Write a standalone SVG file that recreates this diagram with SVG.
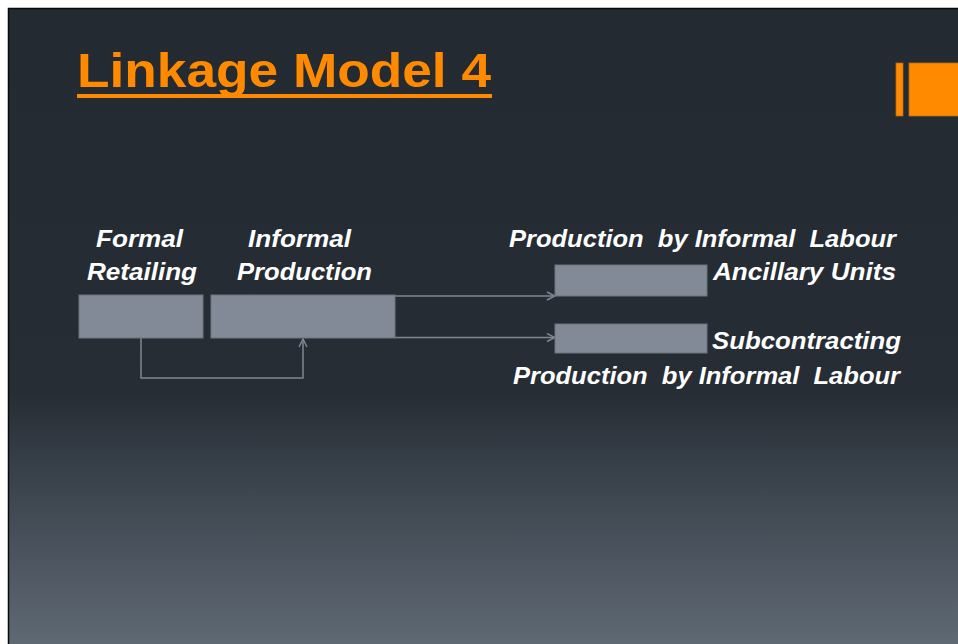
<svg xmlns="http://www.w3.org/2000/svg" width="958" height="644" viewBox="0 0 958 644">
<defs>
<linearGradient id="bg" x1="0" y1="0" x2="0" y2="1">
<stop offset="0" stop-color="#232a31"/>
<stop offset="0.6" stop-color="#262d35"/>
<stop offset="0.85" stop-color="#4b545e"/>
<stop offset="1" stop-color="#606a75"/>
</linearGradient>
<marker id="arr" viewBox="0 0 10 10" refX="9" refY="5" markerWidth="10" markerHeight="10" markerUnits="userSpaceOnUse" orient="auto">
<path d="M1,1 L9,5 L1,9" fill="none" stroke="#7d8692" stroke-width="1.5"/>
</marker>
<style>
.box{fill:#818a96;stroke:#6c7480;stroke-width:1}
.lbl{font-family:"Liberation Sans",Arial,sans-serif;font-weight:bold;font-style:italic;font-size:23px;fill:#ffffff;white-space:pre}
.con{fill:none;stroke:#7d8692;stroke-width:1.5}
.title{font-family:"Liberation Sans",Arial,sans-serif;font-weight:bold;font-size:49px;fill:#ff8a00}
</style>
</defs>
<rect x="0" y="0" width="958" height="644" fill="#ffffff"/>
<rect x="8.5" y="8.5" width="960" height="640" fill="url(#bg)" stroke="#0a0a0a" stroke-width="1.5"/>
<g id="title">
<text class="title" x="77" y="87" textLength="414" lengthAdjust="spacingAndGlyphs">Linkage Model 4</text>
<rect x="77" y="94" width="415" height="4" fill="#ff8a00"/>
</g>
<g id="accent">
<rect x="896" y="63" width="7" height="53" fill="#ff8a00" stroke="#b86a10" stroke-width="0.8"/>
<rect x="909" y="63" width="52" height="53" fill="#ff8a00" stroke="#b86a10" stroke-width="0.8"/>
</g>
<g id="connectors">
<path class="con" d="M395,296 H555" marker-end="url(#arr)"/>
<path class="con" d="M395,337.5 H555" marker-end="url(#arr)"/>
<path class="con" d="M141,338 V378 H303 V339" marker-end="url(#arr)"/>
</g>
<g id="formal-retailing">
<rect class="box" x="79" y="295" width="124" height="43"/>
<text class="lbl" x="96" y="247" textLength="87" lengthAdjust="spacingAndGlyphs">Formal</text>
<text class="lbl" x="87" y="280" textLength="110" lengthAdjust="spacingAndGlyphs">Retailing</text>
</g>
<g id="informal-production">
<rect class="box" x="211" y="295" width="184" height="43"/>
<text class="lbl" x="248" y="247" textLength="103" lengthAdjust="spacingAndGlyphs">Informal</text>
<text class="lbl" x="237" y="280" textLength="135" lengthAdjust="spacingAndGlyphs">Production</text>
</g>
<g id="ancillary-units">
<rect class="box" x="555" y="265" width="152" height="31"/>
<text class="lbl" x="509" y="247" textLength="387" lengthAdjust="spacingAndGlyphs">Production  by Informal  Labour</text>
<text class="lbl" x="713" y="280" textLength="183" lengthAdjust="spacingAndGlyphs">Ancillary Units</text>
</g>
<g id="subcontracting">
<rect class="box" x="555" y="324" width="152" height="29"/>
<text class="lbl" x="712" y="349" textLength="189" lengthAdjust="spacingAndGlyphs">Subcontracting</text>
<text class="lbl" x="513" y="384" textLength="387" lengthAdjust="spacingAndGlyphs">Production  by Informal  Labour</text>
</g>
</svg>
